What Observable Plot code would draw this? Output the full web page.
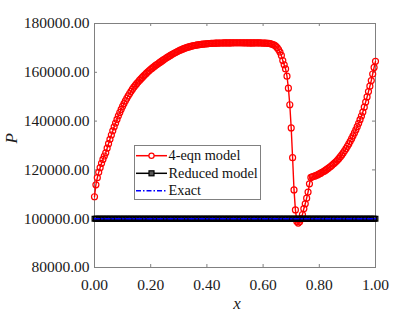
<!DOCTYPE html>
<html><head><meta charset="utf-8">
<script src="https://cdn.jsdelivr.net/npm/d3@7"></script>
<script src="https://cdn.jsdelivr.net/npm/@observablehq/plot@0.6"></script>
<style>
body{margin:0;background:#fff;}
#wrap{position:relative;width:415px;height:312px;overflow:hidden;}
#legend{position:absolute;left:134px;top:145px;}
</style></head>
<body><div id="wrap"></div>
<script>
// grid of the 4-eqn / reduced model solution (dx = 0.005)
const xGrid = d3.range(0, 201).map(i => +(i * 0.005).toFixed(3));
// 4-eqn model pressure P, one value per grid point
const fourEqnP = [
109000,113900,116800,119000,120900,122700,124300,125700,127000,128900,
130750,132550,134300,136000,137650,139200,140700,142150,143530,144830,
146050,147200,148300,149360,150360,151310,152210,153070,153900,154630,
155330,156000,156650,157280,157895,158500,159080,159640,160180,160700,
161200,161680,162145,162595,163020,163400,163840,164265,164675,165070,
165455,165830,166195,166550,166900,167245,167580,167905,168215,168510,
168795,169070,169330,169575,169800,170010,170205,170385,170550,170705,
170850,170980,171095,171200,171295,171380,171455,171525,171590,171645,
171700,171750,171795,171835,171870,171900,171930,171955,171975,171990,
172000,172010,172020,172030,172040,172050,172055,172060,172065,172070,
172070,172070,172070,172070,172070,172070,172065,172065,172060,172060,
172055,172055,172050,172050,172045,172045,172040,172030,172020,172000,
171980,171950,171920,171880,171830,171750,171600,171400,171100,170700,
170100,169300,168300,166900,164800,163100,161400,158400,153500,146700,
137200,125000,111800,103600,98900,98200,98700,99900,101700,104100,
106100,108400,110900,114300,116900,117150,117350,117550,117800,118050,
118350,118650,119000,119350,119700,120100,120500,120950,121400,121900,
122400,122900,123450,124050,124700,125400,126150,126950,127800,128700,
129650,130650,131700,132800,133950,135150,136400,137700,139100,140600,
142100,143700,145700,147800,149900,152100,154300,156600,159300,162000,
164500];
// Reduced model: constant pressure
const reducedValue = 100000;
const reducedP = xGrid.map(() => reducedValue);
// Exact solution
const exactX = [0, 1];
const exactP = [100000, 100000];
// axes
const xDomain = [0, 1];
const yDomain = [80000, 180000];
const xTicks = [0, 0.2, 0.4, 0.6, 0.8, 1.0];
const yTicks = [80000, 100000, 120000, 140000, 160000, 180000];
const seriesNames = ["4-eqn model", "Reduced model", "Exact"];
const xLabel = "x";
const yLabel = "P";

const fourData = xGrid.map((x, i) => ({x, P: fourEqnP[i]}));
const redData = xGrid.map((x, i) => ({x, P: reducedP[i]}));
const exactData = exactX.map((x, i) => ({x, P: exactP[i]}));

const gray = "#808080";
const fmt = d3.format(".2f");

const chart = Plot.plot({
  width: 415, height: 312,
  marginLeft: 94, marginRight: 40, marginTop: 23, marginBottom: 45,
  x: {domain: xDomain},
  y: {domain: yDomain},
  style: {fontFamily: "'Liberation Serif', serif", fontSize: "15.5px", color: "#1a1a1a", background: "white"},
  marks: [
    Plot.frame({stroke: gray, strokeWidth: 1}),
    Plot.ruleX(xTicks, {x: d => d, y1: yDomain[0], y2: yDomain[0], insetTop: -3, stroke: gray}),
    Plot.ruleX(xTicks, {x: d => d, y1: yDomain[1], y2: yDomain[1], insetBottom: -3, stroke: gray}),
    Plot.ruleY(yTicks, {y: d => d, x1: xDomain[0], x2: xDomain[0], insetRight: -3, stroke: gray}),
    Plot.ruleY(yTicks, {y: d => d, x1: xDomain[1], x2: xDomain[1], insetLeft: -3, stroke: gray}),
    Plot.line(fourData, {x: "x", y: "P", stroke: "#ff0000", strokeWidth: 1.4}),
    Plot.dot(fourData, {x: "x", y: "P", r: 3, stroke: "#ff0000", strokeWidth: 1.2, fill: "none"}),
    Plot.line(redData, {x: "x", y: "P", stroke: "#000", strokeWidth: 1.5}),
    Plot.dot(redData, {x: "x", y: "P", symbol: "square", r: 2.6, stroke: "#000", strokeWidth: 1.3, fill: "none"}),
    Plot.line(exactData, {x: "x", y: "P", stroke: "#0000ff", strokeWidth: 1.6, strokeDasharray: "5,2,1.5,2"}),
    Plot.axisX({ticks: xTicks, tickFormat: fmt, tickSize: 0, tickPadding: 11, label: null}),
    Plot.axisY({ticks: yTicks, tickFormat: fmt, tickSize: 0, tickPadding: 5, label: null}),
    Plot.text([xLabel], {text: d => d, frameAnchor: "bottom", dy: 41, dx: 2, lineAnchor: "bottom", fontStyle: "italic", fontSize: 17}),
    Plot.text([yLabel], {text: d => d, frameAnchor: "left", dx: -83, dy: -2, rotate: -90, lineAnchor: "middle", fontStyle: "italic", fontSize: 17})
  ]
});
const wrap = document.getElementById("wrap");
wrap.appendChild(chart);

// legend
const lw = 126, lh = 54;
const leg = d3.select(wrap).append("svg").attr("id", "legend")
  .attr("width", lw + 1).attr("height", lh + 1);
leg.append("rect").attr("x", 0.5).attr("y", 0.5).attr("width", lw).attr("height", lh)
  .attr("fill", "white").attr("stroke", gray);
const rows = [
  {name: seriesNames[0], ly: 10.7, ty: 15, color: "#ff0000", marker: "circle", dash: null},
  {name: seriesNames[1], ly: 28.3, ty: 32.5, color: "#000", marker: "square", dash: null},
  {name: seriesNames[2], ly: 45.7, ty: 49.5, color: "#0000ff", marker: null, dash: "5,2,1.5,2"}
];
for (const r of rows) {
  leg.append("line").attr("x1", 2).attr("x2", 33).attr("y1", r.ly).attr("y2", r.ly)
    .attr("stroke", r.color).attr("stroke-width", 1.5).attr("stroke-dasharray", r.dash);
  if (r.marker === "circle") {
    leg.append("circle").attr("cx", 17.5).attr("cy", r.ly).attr("r", 2.6)
      .attr("fill", "white").attr("stroke", r.color).attr("stroke-width", 1.2);
  } else if (r.marker === "square") {
    leg.append("rect").attr("x", 15).attr("y", r.ly - 2.5).attr("width", 5).attr("height", 5)
      .attr("fill", "#555").attr("stroke", r.color).attr("stroke-width", 1.2);
  }
  leg.append("text").attr("x", 34.5).attr("y", r.ty).text(r.name)
    .attr("font-family", "'Liberation Serif', serif").attr("font-size", "14.3px").attr("fill", "#111");
}
</script>
</body></html>
